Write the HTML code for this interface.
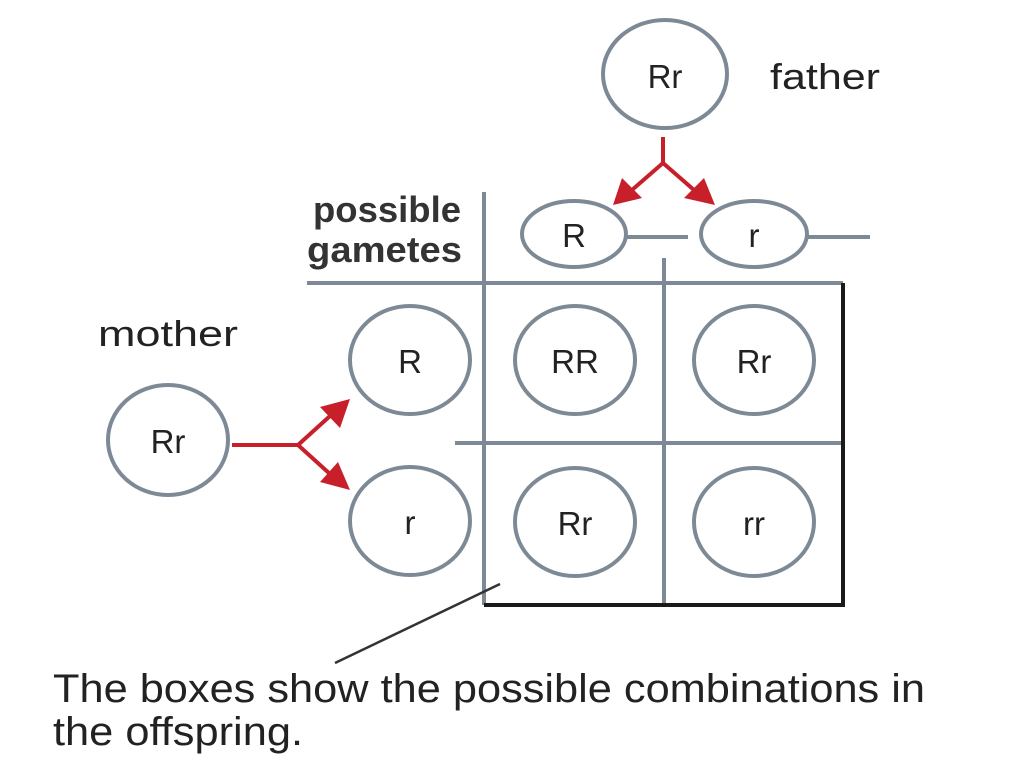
<!DOCTYPE html>
<html><head><style>html,body{margin:0;padding:0;background:#fff}svg{display:block}</style></head>
<body>
<svg width="1023" height="772" viewBox="0 0 1023 772" xmlns="http://www.w3.org/2000/svg" font-family="Liberation Sans, sans-serif">
<g fill="none" stroke="#7d8a96" stroke-width="4">
<ellipse cx="665" cy="74" rx="62" ry="54"/>
<ellipse cx="574" cy="234" rx="52" ry="33"/>
<ellipse cx="754" cy="234" rx="53" ry="33"/>
<line x1="627" y1="237" x2="688" y2="237"/>
<line x1="808" y1="237" x2="870" y2="237"/>
<line x1="484" y1="192" x2="484" y2="605"/>
<line x1="307" y1="283" x2="843" y2="283"/>
<line x1="664" y1="258" x2="664" y2="605"/>
<line x1="455" y1="443" x2="843" y2="443"/>
<ellipse cx="168" cy="440" rx="60" ry="55"/>
<ellipse cx="410" cy="360" rx="60" ry="54"/>
<ellipse cx="410" cy="521" rx="60" ry="54"/>
<ellipse cx="575" cy="360" rx="60" ry="54"/>
<ellipse cx="754" cy="360" rx="60" ry="54"/>
<ellipse cx="575" cy="522" rx="60" ry="54"/>
<ellipse cx="754" cy="522" rx="60" ry="54"/>
</g>
<g stroke="#1a1a1a" stroke-width="4" fill="none">
<polyline points="843,283 843,605 484,605"/>
</g>
<line x1="335" y1="663" x2="500" y2="584" stroke="#333" stroke-width="2.5"/>
<g stroke="#c8202a" stroke-width="4" fill="none">
<line x1="663" y1="137" x2="663" y2="163"/>
<line x1="663" y1="163" x2="632" y2="190"/>
<line x1="663" y1="163" x2="694" y2="190"/>
<line x1="232" y1="445" x2="298" y2="445"/>
<line x1="298" y1="445" x2="330" y2="416"/>
<line x1="298" y1="445" x2="330" y2="474"/>
</g>
<g fill="#c8202a">
<polygon points="613,205 622,178 642,198"/>
<polygon points="715,205 684,198 704,178"/>
<polygon points="350,399 320,407 340,428"/>
<polygon points="350,490 320,482 338,462"/>
</g>
<g fill="#222" font-size="33" text-anchor="middle">
<text x="665" y="88">Rr</text>
<text x="574" y="247">R</text>
<text x="754" y="247">r</text>
<text x="168" y="453">Rr</text>
<text x="410" y="373">R</text>
<text x="410" y="534">r</text>
<text x="575" y="373">RR</text>
<text x="754" y="373">Rr</text>
<text x="575" y="535">Rr</text>
<text x="754" y="535">rr</text>
</g>
<g fill="#222" font-size="36">
<text x="770" y="89" textLength="110" lengthAdjust="spacingAndGlyphs">father</text>
<text x="98" y="346" textLength="140" lengthAdjust="spacingAndGlyphs">mother</text>
<text x="313" y="222" textLength="148" lengthAdjust="spacingAndGlyphs" font-weight="bold" fill="#333">possible</text>
<text x="307" y="262" textLength="155" lengthAdjust="spacingAndGlyphs" font-weight="bold" fill="#333">gametes</text>
<text x="53" y="702" font-size="40" textLength="872" lengthAdjust="spacingAndGlyphs">The boxes show the possible combinations in</text>
<text x="53" y="745" font-size="40" textLength="250" lengthAdjust="spacingAndGlyphs">the offspring.</text>
</g>
</svg>
</body></html>
